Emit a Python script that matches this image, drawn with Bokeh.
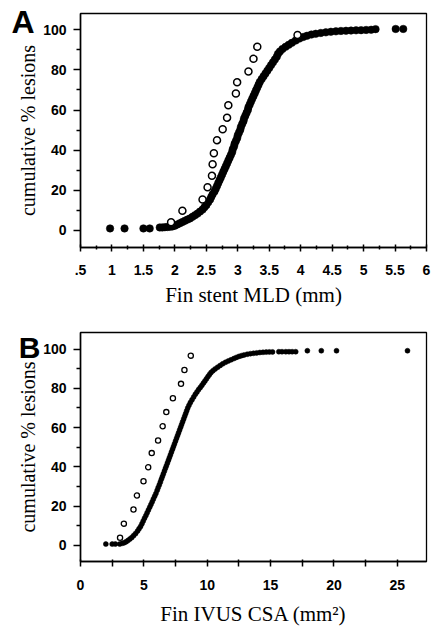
from bokeh.plotting import figure
from bokeh.layouts import column
from bokeh.models import Range1d, FixedTicker, LinearAxis
from bokeh.embed import file_html
from bokeh.resources import INLINE

# ---------------- Panel A data: final in-stent MLD (mm) ----------------
a_filled_x = [0.97, 1.20, 1.50, 1.60,
              1.76, 1.80, 1.84, 1.88, 1.92, 1.96, 2.00, 2.04, 2.08, 2.12,
              2.16, 2.20, 2.24, 2.28, 2.32, 2.36, 2.40, 2.44, 2.47, 2.50,
              2.53, 2.56, 2.58, 2.60, 2.63, 2.65, 2.67, 2.69, 2.71, 2.73,
              2.75, 2.77, 2.79, 2.81, 2.83, 2.85, 2.87, 2.89, 2.91, 2.92,
              2.94, 2.95, 2.97, 2.99, 3.00, 3.02, 3.04, 3.05, 3.07, 3.09,
              3.10, 3.12, 3.14, 3.16, 3.17, 3.19, 3.21, 3.23, 3.25, 3.27,
              3.29, 3.31, 3.33, 3.35, 3.38, 3.41, 3.44, 3.47, 3.50, 3.53,
              3.56, 3.59, 3.62, 3.64, 3.67, 3.71, 3.76, 3.81, 3.86, 3.92,
              3.98, 4.04, 4.10, 4.17, 4.24, 4.32, 4.40, 4.48, 4.56, 4.64,
              4.72, 4.80, 4.88, 4.96, 5.04, 5.12, 5.19, 5.51, 5.63]
a_filled_y = [1.0, 1.0, 1.0, 1.0,
              1.5, 1.5, 1.6, 1.7, 1.8, 2.0, 2.4, 3.0, 3.6, 4.2,
              4.8, 5.4, 6.0, 6.8, 7.6, 8.4, 9.4, 10.4, 11.5, 12.6,
              14.0, 15.4, 16.8, 18.0, 19.4, 20.8, 22.2, 23.6, 25.0, 26.4,
              27.8, 29.2, 30.6, 32.0, 33.4, 34.8, 36.2, 37.6, 39.0, 40.4,
              41.8, 43.2, 44.6, 46.0, 47.4, 48.8, 50.2, 51.6, 53.0, 54.4,
              55.8, 57.2, 58.6, 60.0, 61.4, 62.8, 64.2, 65.6, 67.0, 68.4,
              69.8, 71.2, 72.6, 74.0, 75.4, 76.8, 78.2, 79.6, 81.0, 82.4,
              83.8, 85.2, 86.6, 88.0, 89.2, 90.4, 91.5, 92.5, 93.5, 94.6,
              95.6, 96.4, 97.0, 97.6, 98.0, 98.4, 98.7, 99.0, 99.2, 99.4,
              99.5, 99.6, 99.7, 99.8, 99.9, 100.0, 100.3, 100.4, 100.4]
a_open_x = [1.94, 2.12, 2.44, 2.52, 2.59, 2.60, 2.62, 2.67, 2.76, 2.83,
            2.85, 2.97, 2.99, 3.17, 3.25, 3.31, 3.95]
a_open_y = [4.1, 9.8, 15.4, 21.5, 27.2, 33.0, 38.5, 45.0, 50.4, 56.2,
            62.4, 68.2, 73.8, 79.2, 85.5, 91.5, 97.4]

a_x_ticks = [0.5, 1.0, 1.5, 2.0, 2.5, 3.0, 3.5, 4.0, 4.5, 5.0, 5.5, 6.0]
a_x_minor = [0.75, 1.25, 1.75, 2.25, 2.75, 3.25, 3.75, 4.25, 4.75, 5.25, 5.75]
a_x_labels = {0.5: ".5", 1.0: "1", 1.5: "1.5", 2.0: "2", 2.5: "2.5", 3.0: "3",
              3.5: "3.5", 4.0: "4", 4.5: "4.5", 5.0: "5", 5.5: "5.5", 6.0: "6"}

# ---------------- Panel B data: final IVUS CSA (mm2) ----------------
b_filled_x = [2.00, 2.50, 2.75, 3.10,
              3.30, 3.45, 3.60, 3.75, 3.90, 4.05, 4.20, 4.35, 4.50, 4.62,
              4.74, 4.85, 4.95, 5.05, 5.16, 5.26, 5.36, 5.46, 5.56, 5.66,
              5.75, 5.85, 5.95, 6.05, 6.13, 6.22, 6.30, 6.38, 6.46, 6.54,
              6.62, 6.70, 6.78, 6.86, 6.94, 7.02, 7.10, 7.18, 7.26, 7.34,
              7.42, 7.50, 7.58, 7.66, 7.74, 7.82, 7.90, 7.98, 8.06, 8.14,
              8.22, 8.30, 8.38, 8.46, 8.56, 8.67, 8.80, 8.93, 9.06, 9.19,
              9.32, 9.45, 9.58, 9.70, 9.82, 9.94, 10.06, 10.18, 10.30, 10.45,
              10.62, 10.82, 11.02, 11.22, 11.44, 11.66, 11.88, 12.10, 12.30,
              12.50, 12.70, 12.90, 13.15, 13.40, 13.65, 13.90, 14.15, 14.40,
              14.65, 14.90, 15.15, 15.65, 15.90, 16.20, 16.45, 16.70, 16.98,
              17.90, 19.00, 20.20, 25.80]
b_filled_y = [0.6, 0.6, 0.6, 0.6,
              1.0, 1.3, 1.8, 2.4, 3.2, 4.0, 5.0, 6.0, 7.2, 8.4,
              9.6, 11.0, 12.4, 13.8, 15.2, 16.6, 18.0, 19.4, 20.8, 22.2,
              23.6, 25.0, 26.4, 28.0, 29.4, 30.8, 32.2, 33.6, 35.0, 36.4,
              37.8, 39.2, 40.6, 42.0, 43.4, 44.8, 46.2, 47.6, 49.0, 50.4,
              51.8, 53.2, 54.6, 56.0, 57.4, 58.8, 60.2, 61.6, 63.0, 64.4,
              65.8, 67.2, 68.6, 70.0, 71.4, 72.8, 74.2, 75.6, 77.0, 78.2,
              79.4, 80.5, 81.6, 82.7, 83.8, 84.9, 86.0, 87.1, 88.1, 89.0,
              89.9, 90.8, 91.7, 92.5, 93.3, 94.0, 94.6, 95.2, 95.8,
              96.3, 96.7, 97.0, 97.4, 97.7, 97.9, 98.1, 98.3, 98.4,
              98.5, 98.6, 98.6, 98.7, 98.7, 98.7, 98.7, 98.7, 98.7,
              99.2, 99.2, 99.2, 99.2]
b_open_x = [3.12, 3.42, 4.18, 4.45, 4.97, 5.34, 5.62, 6.12, 6.48, 6.77,
            7.29, 7.93, 8.20, 8.70]
b_open_y = [3.8, 11.0, 18.2, 25.4, 32.6, 39.8, 47.0, 53.4, 60.7, 67.9,
            75.0, 82.3, 89.4, 96.7]

b_x_ticks = [0, 5, 10, 15, 20, 25]
b_x_minor = [2.5, 7.5, 12.5, 17.5, 22.5, 27.5]

y_ticks = [0, 20, 40, 60, 80, 100]
y_minor = [10, 30, 50, 70, 90]

panel_letters = ["A", "B"]

SANS = "Liberation Sans"
SERIF = "Liberation Serif"


def style(p, xt, xm, x_in, x_out, xm_in, xm_out, x_standoff, xlab_standoff):
    p.grid.visible = False
    p.outline_line_color = "black"
    p.outline_line_width = 1.3
    p.background_fill_color = "white"
    p.border_fill_color = "white"
    xa = p.xaxis[0]
    xa.ticker = FixedTicker(ticks=xt, minor_ticks=xm)
    xa.major_tick_in = x_in
    xa.major_tick_out = x_out
    xa.minor_tick_in = xm_in
    xa.minor_tick_out = xm_out
    xa.major_label_standoff = x_standoff
    xa.axis_label_standoff = xlab_standoff
    ya = p.yaxis[0]
    ya.ticker = FixedTicker(ticks=y_ticks, minor_ticks=y_minor)
    ya.major_tick_in = 0
    ya.major_tick_out = 7
    ya.minor_tick_in = 0
    ya.minor_tick_out = 4
    ya.major_label_standoff = 7
    ya.axis_label_standoff = 1
    for ax in (xa, ya):
        ax.axis_line_width = 1.5
        ax.axis_line_color = "black"
        ax.major_tick_line_width = 1.5
        ax.minor_tick_line_width = 1.5
        ax.major_tick_line_color = "black"
        ax.minor_tick_line_color = "black"
        ax.major_label_text_font = SANS
        ax.major_label_text_font_style = "bold"
        ax.major_label_text_font_size = "14px"
        ax.major_label_text_color = "black"
        ax.axis_label_text_font = SERIF
        ax.axis_label_text_font_style = "normal"
        ax.axis_label_text_color = "black"
    xa.axis_label_text_font_size = "21px"
    ya.axis_label_text_font_size = "20px"


def add_letter(p, letter, at, standoff, size):
    # panel letter drawn as the only tick label of an extra, invisible left axis
    ax = LinearAxis(ticker=FixedTicker(ticks=[at]),
                    major_label_overrides={at: letter})
    ax.axis_line_color = None
    ax.major_tick_line_color = None
    ax.minor_tick_line_color = None
    ax.major_tick_in = 0
    ax.major_tick_out = 0
    ax.minor_tick_in = 0
    ax.minor_tick_out = 0
    ax.major_label_standoff = standoff
    ax.major_label_text_font = SANS
    ax.major_label_text_font_style = "bold"
    ax.major_label_text_font_size = size
    ax.major_label_text_color = "black"
    p.add_layout(ax, "left")


# ---------------- Panel A ----------------
pa = figure(width=432, height=310, output_backend="svg", toolbar_location=None,
            x_range=Range1d(0.5, 6.0), y_range=Range1d(-8.5, 108.1),
            min_border_left=78, min_border_right=6, min_border_top=13,
            min_border_bottom=63,
            x_axis_label="Fin stent MLD (mm)", y_axis_label="cumulative % lesions")
style(pa, a_x_ticks, a_x_minor, 3, 4, 2, 2, 13, 5)
pa.xaxis[0].major_label_overrides = a_x_labels
pa.scatter(a_filled_x, a_filled_y, size=7.5, marker="circle",
           fill_color="black", line_color="black", line_width=0.5)
pa.scatter(a_open_x, a_open_y, size=7, marker="circle",
           fill_color="white", line_color="black", line_width=1.5)
add_letter(pa, panel_letters[0], 104, -20, "32px")

# ---------------- Panel B ----------------
pb = figure(width=432, height=318, output_backend="svg", toolbar_location=None,
            x_range=Range1d(0, 27.3), y_range=Range1d(-8.3, 108.5),
            min_border_left=80, min_border_right=6, min_border_top=22,
            min_border_bottom=62,
            x_axis_label="Fin IVUS CSA (mm²)", y_axis_label="cumulative % lesions")
style(pb, b_x_ticks, b_x_minor, 2, 5, 2, 5, 13, 9)
pb.scatter(b_filled_x, b_filled_y, size=5, marker="circle",
           fill_color="black", line_color="black", line_width=0.5)
pb.scatter(b_open_x, b_open_y, size=5.2, marker="circle",
           fill_color="white", line_color="black", line_width=1.3)
add_letter(pb, panel_letters[1], 101, -26, "30px")

layout = column(pa, pb, spacing=0)
open("out.html", "w").write(file_html(layout, INLINE))
